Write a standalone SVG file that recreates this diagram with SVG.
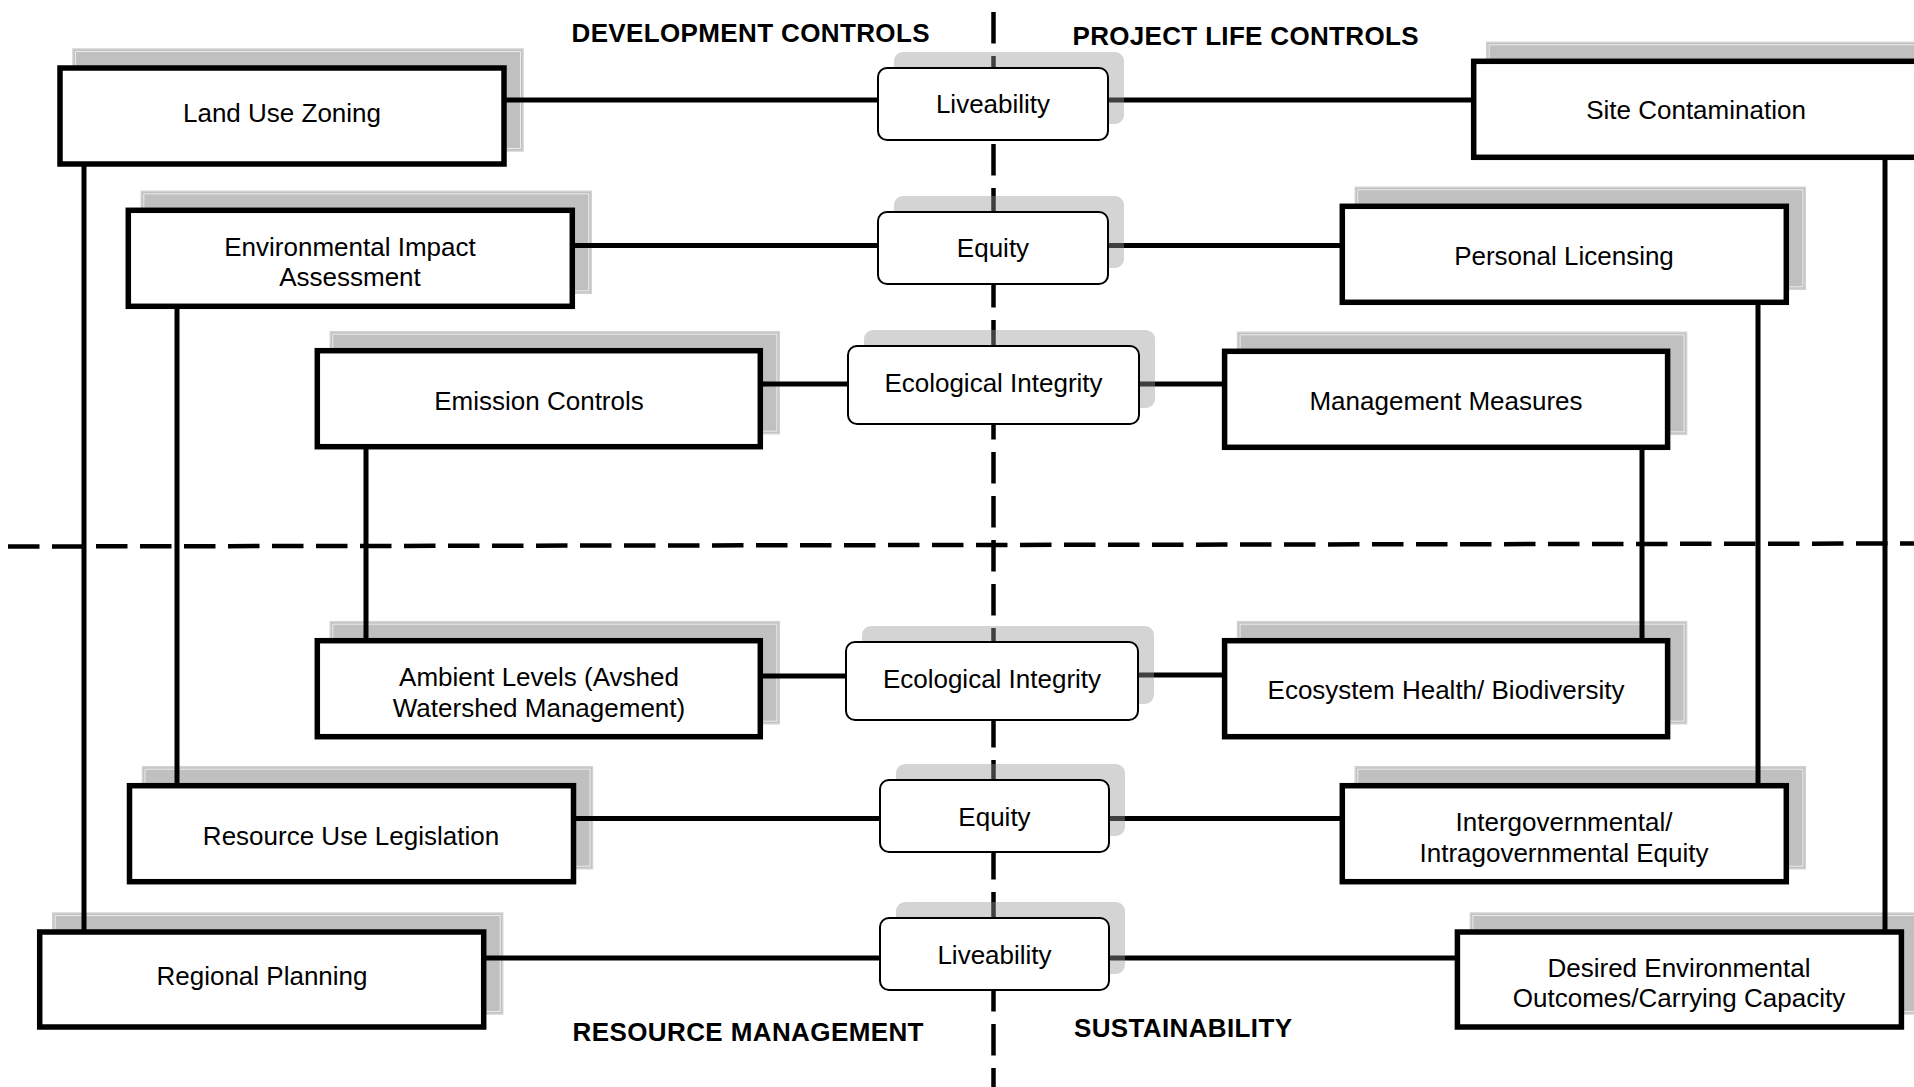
<svg xmlns="http://www.w3.org/2000/svg" width="1914" height="1087" viewBox="0 0 1914 1087">
<style>
.bg{fill:#ffffff}
.sh{fill:#c0c0c0;stroke:#d2d2d2;stroke-width:1.5}
.shi{fill:none;stroke:#ececec;stroke-width:1}
.box{fill:#ffffff;stroke:#000000;stroke-width:5.5}
.csh{fill:#999999;fill-opacity:0.42}
.cbox{fill:#ffffff;stroke:#000000;stroke-width:2}
.ln{stroke:#000000;stroke-width:5;fill:none}
.dash{stroke:#000000;stroke-width:4.5;fill:none;stroke-dasharray:31.5 12.5}
.t{font-family:"Liberation Sans",Arial,sans-serif;font-size:26px;fill:#000000;text-anchor:middle}
.h{font-family:"Liberation Sans",Arial,sans-serif;font-size:26px;font-weight:bold;fill:#000000}
</style>
<rect class="bg" x="0" y="0" width="1914" height="1087"/>

<g id="shadows">
  <rect class="sh" x="73" y="49" width="450" height="102"/><rect class="shi" x="75.5" y="51.5" width="445" height="97"/>
  <rect class="sh" x="141.3" y="191.3" width="450" height="102"/><rect class="shi" x="143.8" y="193.8" width="445" height="97"/>
  <rect class="sh" x="330.3" y="331.7" width="449" height="102"/><rect class="shi" x="332.8" y="334.2" width="444" height="97"/>
  <rect class="sh" x="330.3" y="621.7" width="449" height="102"/><rect class="shi" x="332.8" y="624.2" width="444" height="97"/>
  <rect class="sh" x="142.5" y="766.7" width="450" height="102"/><rect class="shi" x="145" y="769.2" width="445" height="97"/>
  <rect class="sh" x="52.7" y="913" width="450" height="101"/><rect class="shi" x="55.2" y="915.5" width="445" height="96"/>
  <rect class="sh" x="1486.7" y="42.3" width="450" height="102"/><rect class="shi" x="1489.2" y="44.8" width="445" height="97"/>
  <rect class="sh" x="1355.3" y="187.3" width="450" height="102"/><rect class="shi" x="1357.8" y="189.8" width="445" height="97"/>
  <rect class="sh" x="1237.6" y="332.3" width="449" height="102"/><rect class="shi" x="1240.1" y="334.8" width="444" height="97"/>
  <rect class="sh" x="1237.6" y="621.7" width="449" height="102"/><rect class="shi" x="1240.1" y="624.2" width="444" height="97"/>
  <rect class="sh" x="1355.3" y="766.7" width="450" height="102"/><rect class="shi" x="1357.8" y="769.2" width="445" height="97"/>
  <rect class="sh" x="1470.4" y="913" width="450" height="101"/><rect class="shi" x="1472.9" y="915.5" width="445" height="96"/>
</g>

<g id="dividers">
  <line class="dash" x1="993.5" y1="12" x2="993.5" y2="1087"/>
  <line class="dash" x1="8" y1="546.5" x2="1914" y2="543.5"/>
</g>

<g id="connectors">
  <line class="ln" x1="505" y1="100" x2="878" y2="100"/>
  <line class="ln" x1="1108" y1="100" x2="1474" y2="100"/>
  <line class="ln" x1="573" y1="245.5" x2="878" y2="245.5"/>
  <line class="ln" x1="1108" y1="245.5" x2="1342" y2="245.5"/>
  <line class="ln" x1="760" y1="384" x2="848" y2="384"/>
  <line class="ln" x1="1139" y1="384" x2="1225" y2="384"/>
  <line class="ln" x1="760" y1="676" x2="846" y2="676"/>
  <line class="ln" x1="1138" y1="675" x2="1225" y2="675"/>
  <line class="ln" x1="573" y1="818.5" x2="880" y2="818.5"/>
  <line class="ln" x1="1109" y1="818.5" x2="1342" y2="818.5"/>
  <line class="ln" x1="483" y1="958" x2="880" y2="958"/>
  <line class="ln" x1="1109" y1="958" x2="1457" y2="958"/>
  <line class="ln" x1="84" y1="164" x2="84" y2="932"/>
  <line class="ln" x1="177" y1="306" x2="177" y2="786"/>
  <line class="ln" x1="366" y1="446" x2="366" y2="641"/>
  <line class="ln" x1="1642" y1="447" x2="1642" y2="641"/>
  <line class="ln" x1="1758" y1="302" x2="1758" y2="786"/>
  <line class="ln" x1="1885" y1="157" x2="1885" y2="932"/>
</g>

<g id="node-land-use-zoning">
  <rect class="box" x="60" y="68" width="444" height="96"/>
  <text class="t" x="282" y="122">Land Use Zoning</text>
</g>
<g id="node-eia">
  <rect class="box" x="128.3" y="210.3" width="444" height="96"/>
  <text class="t" x="350" y="256">Environmental Impact</text>
  <text class="t" x="350" y="285.5">Assessment</text>
</g>
<g id="node-emission-controls">
  <rect class="box" x="317.3" y="350.7" width="443" height="96"/>
  <text class="t" x="539" y="409.5">Emission Controls</text>
</g>
<g id="node-ambient-levels">
  <rect class="box" x="317.3" y="640.7" width="443" height="96"/>
  <text class="t" x="539" y="685.5">Ambient Levels (Avshed</text>
  <text class="t" x="539" y="717">Watershed Management)</text>
</g>
<g id="node-resource-use-legislation">
  <rect class="box" x="129.5" y="785.7" width="444" height="96"/>
  <text class="t" x="351" y="844.5">Resource Use Legislation</text>
</g>
<g id="node-regional-planning">
  <rect class="box" x="39.7" y="932" width="444" height="95"/>
  <text class="t" x="262" y="984.5">Regional Planning</text>
</g>
<g id="node-site-contamination">
  <rect class="box" x="1473.7" y="61.3" width="444" height="96"/>
  <text class="t" x="1696" y="119">Site Contamination</text>
</g>
<g id="node-personal-licensing">
  <rect class="box" x="1342.3" y="206.3" width="444" height="96"/>
  <text class="t" x="1564" y="264.5">Personal Licensing</text>
</g>
<g id="node-management-measures">
  <rect class="box" x="1224.6" y="351.3" width="443" height="96"/>
  <text class="t" x="1446" y="409.5">Management Measures</text>
</g>
<g id="node-ecosystem-health">
  <rect class="box" x="1224.6" y="640.7" width="443" height="96"/>
  <text class="t" x="1446" y="699">Ecosystem Health/ Biodiversity</text>
</g>
<g id="node-intergovernmental-equity">
  <rect class="box" x="1342.3" y="785.7" width="444" height="96"/>
  <text class="t" x="1564" y="831">Intergovernmental/</text>
  <text class="t" x="1564" y="861.5">Intragovernmental Equity</text>
</g>
<g id="node-desired-outcomes">
  <rect class="box" x="1457.4" y="932" width="444" height="95"/>
  <text class="t" x="1679" y="976.5">Desired Environmental</text>
  <text class="t" x="1679" y="1007">Outcomes/Carrying Capacity</text>
</g>

<g id="node-liveability-top">
  <rect class="csh" x="894" y="52" width="230" height="72" rx="9"/>
  <rect class="cbox" x="878" y="68" width="230" height="72" rx="9"/>
  <text class="t" x="993" y="113">Liveability</text>
</g>
<g id="node-equity-top">
  <rect class="csh" x="894" y="196" width="230" height="72" rx="9"/>
  <rect class="cbox" x="878" y="212" width="230" height="72" rx="9"/>
  <text class="t" x="993" y="257">Equity</text>
</g>
<g id="node-ecological-integrity-top">
  <rect class="csh" x="864" y="330" width="291" height="78" rx="9"/>
  <rect class="cbox" x="848" y="346" width="291" height="78" rx="9"/>
  <text class="t" x="993.5" y="391.5">Ecological Integrity</text>
</g>
<g id="node-ecological-integrity-bottom">
  <rect class="csh" x="862" y="626" width="292" height="78" rx="9"/>
  <rect class="cbox" x="846" y="642" width="292" height="78" rx="9"/>
  <text class="t" x="992" y="688">Ecological Integrity</text>
</g>
<g id="node-equity-bottom">
  <rect class="csh" x="896" y="764" width="229" height="72" rx="9"/>
  <rect class="cbox" x="880" y="780" width="229" height="72" rx="9"/>
  <text class="t" x="994.5" y="826">Equity</text>
</g>
<g id="node-liveability-bottom">
  <rect class="csh" x="896" y="902" width="229" height="72" rx="9"/>
  <rect class="cbox" x="880" y="918" width="229" height="72" rx="9"/>
  <text class="t" x="994.5" y="964">Liveability</text>
</g>

<g id="headings">
  <text class="h" x="571.5" y="41.8" textLength="358">DEVELOPMENT CONTROLS</text>
  <text class="h" x="1072.5" y="44.5" textLength="346">PROJECT LIFE CONTROLS</text>
  <text class="h" x="572.5" y="1040.5" textLength="351">RESOURCE MANAGEMENT</text>
  <text class="h" x="1074" y="1036.5" textLength="218">SUSTAINABILITY</text>
</g>
</svg>
